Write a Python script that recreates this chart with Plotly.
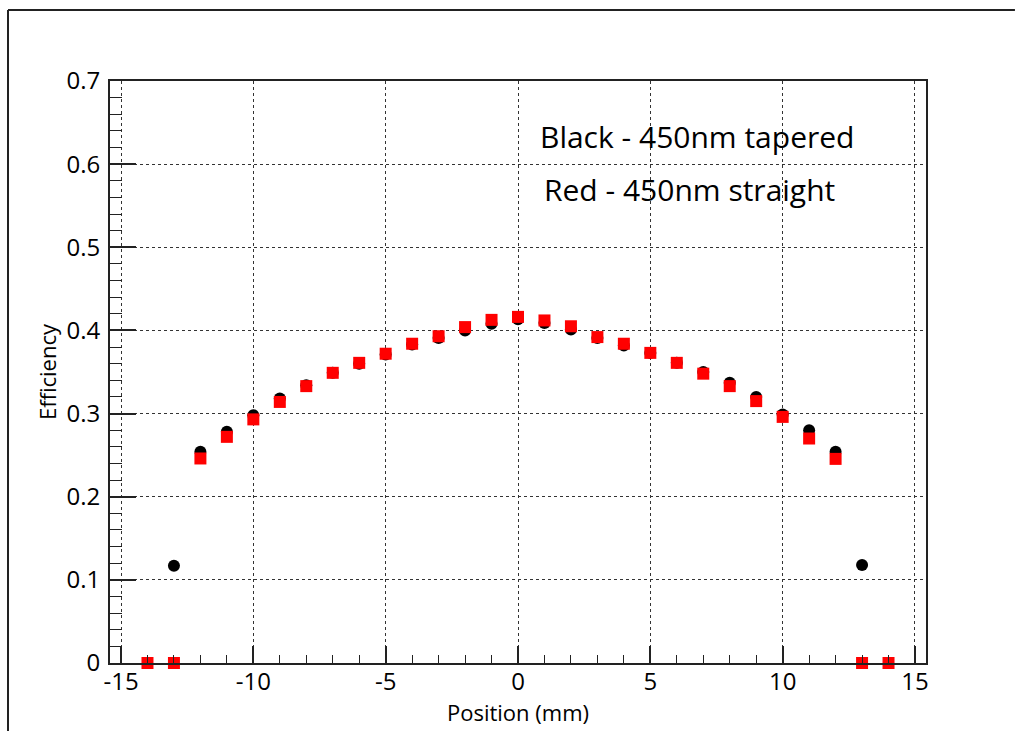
import plotly.graph_objects as go

# Data
black_x = [-13, -12, -11, -10, -9, -8, -7, -6, -5, -4, -3, -2, -1, 0,
           1, 2, 3, 4, 5, 6, 7, 8, 9, 10, 11, 12, 13]
black_y = [0.117, 0.254, 0.278, 0.298, 0.318, 0.334, 0.349, 0.360, 0.371, 0.383, 0.391, 0.400, 0.408, 0.4135,
           0.409, 0.401, 0.391, 0.382, 0.373, 0.361, 0.350, 0.337, 0.320, 0.299, 0.280, 0.254, 0.118]

red_x = [-14, -13, -12, -11, -10, -9, -8, -7, -6, -5, -4, -3, -2, -1, 0,
         1, 2, 3, 4, 5, 6, 7, 8, 9, 10, 11, 12, 13, 14]
red_y = [0.0, 0.0, 0.246, 0.272, 0.293, 0.314, 0.333, 0.349, 0.361, 0.372, 0.384, 0.393, 0.404, 0.4127, 0.4163,
         0.412, 0.405, 0.392, 0.384, 0.373, 0.361, 0.348, 0.333, 0.315, 0.296, 0.270, 0.2455, 0.0, 0.0]

x_ticks = [-15, -10, -5, 0, 5, 10, 15]
y_ticks = [0, 0.1, 0.2, 0.3, 0.4, 0.5, 0.6, 0.7]
y_tick_text = ["0", "0.1", "0.2", "0.3", "0.4", "0.5", "0.6", "0.7"]

legend_lines = ["Black - 450nm tapered", "Red - 450nm straight"]

FONT = "Open Sans"

fig = go.Figure()
fig.add_trace(go.Scatter(x=black_x, y=black_y, mode="markers",
                         marker=dict(symbol="circle", size=12, color="black"),
                         showlegend=False, cliponaxis=False))
fig.add_trace(go.Scatter(x=red_x, y=red_y, mode="markers",
                         marker=dict(symbol="square", size=12, color="#ff0000"),
                         showlegend=False, cliponaxis=False))

fig.update_layout(
    width=1016, height=731,
    paper_bgcolor="white", plot_bgcolor="white",
    margin=dict(l=110, r=90, t=81, b=68, autoexpand=False),
    font=dict(family=FONT, color="black", size=22),
)

fig.update_xaxes(
    range=[-15.416, 15.416], tickvals=x_ticks, ticktext=[str(v) for v in x_ticks],
    ticks="inside", ticklen=17, tickwidth=1.5, tickcolor="#222",
    minor=dict(dtick=1, tick0=0, ticks="inside", ticklen=8, tickwidth=1.2, tickcolor="#222", showgrid=False),
    showgrid=True, gridcolor="#333", griddash="dot", gridwidth=1.2,
    zeroline=False, showline=True, linecolor="#222", linewidth=2, mirror=True,
    tickfont=dict(size=24, family=FONT), ticklabelstandoff=-4,
    title=dict(text="Position (mm)", font=dict(size=22, family=FONT), standoff=2),
    automargin=False,
)
fig.update_yaxes(
    range=[0, 0.7], tickvals=y_ticks, ticktext=y_tick_text,
    ticks="inside", ticklen=26, tickwidth=1.5, tickcolor="#222",
    minor=dict(dtick=0.02, tick0=0, ticks="inside", ticklen=12, tickwidth=1.2, tickcolor="#222", showgrid=False),
    showgrid=True, gridcolor="#333", griddash="dot", gridwidth=1.2,
    zeroline=False, showline=True, linecolor="#222", linewidth=2, mirror=True,
    tickfont=dict(size=24, family=FONT), ticklabelstandoff=3,
    title=dict(text="Efficiency", font=dict(size=22, family=FONT), standoff=4),
    automargin=False,
)

# Legend text annotations
fig.add_annotation(x=6.76, y=0.6327, xref="x", yref="y", text=legend_lines[0],
                   showarrow=False, font=dict(size=30, family=FONT))
fig.add_annotation(x=6.49, y=0.569, xref="x", yref="y", text=legend_lines[1],
                   showarrow=False, font=dict(size=30, family=FONT))

# Outer canvas border (top and left visible)
fig.add_shape(type="line", xref="paper", yref="paper", x0=-0.125, x1=1.109, y0=1.122, y1=1.122,
              line=dict(color="#222", width=2))
fig.add_shape(type="line", xref="paper", yref="paper", x0=-0.125, x1=-0.125, y0=1.122, y1=-0.2,
              line=dict(color="#222", width=2))

fig.write_html("out.html", config={"displayModeBar": False},
               post_script="document.body.style.margin='0';document.body.style.padding='0';"
                           "document.documentElement.style.overflow='hidden';")
